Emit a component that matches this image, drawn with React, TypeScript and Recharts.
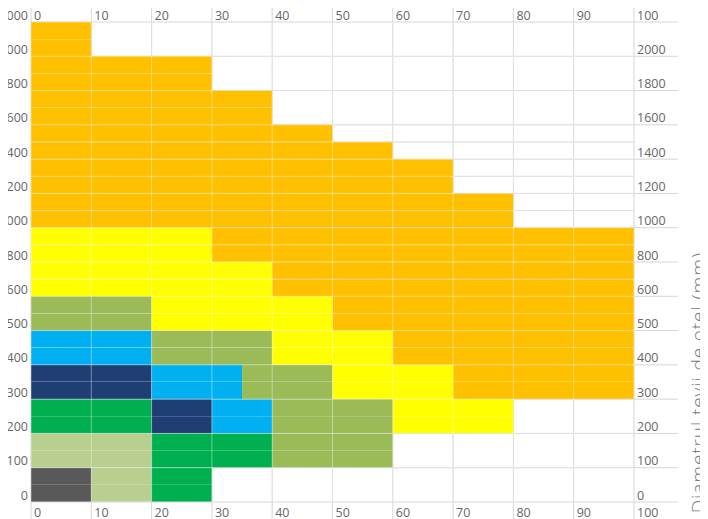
import { Bar, BarChart, CartesianGrid, ReferenceLine, XAxis, YAxis } from "recharts"

// x: 0..100 (top and bottom axis)
const xTicks = [0, 10, 20, 30, 40, 50, 60, 70, 80, 90, 100]

// pipe diameter bands (mm), bottom band first; label sits on the band's lower edge
const bandLabels = ["0", "100", "200", "300", "400", "500", "600", "800", "1000", "1200", "1400", "1600", "1800", "2000"]
const leftTopLabel = "3000"
const title = "Diametrul țevii de oțel (mm)"

// width of each colour per band, bottom band first
const gray = [10, 0, 0, 0, 0, 0, 0, 0, 0, 0, 0, 0, 0, 0]
const paleGreen = [10, 20, 0, 0, 0, 0, 0, 0, 0, 0, 0, 0, 0, 0]
const green = [10, 20, 20, 0, 0, 0, 0, 0, 0, 0, 0, 0, 0, 0]
const navy = [0, 0, 10, 20, 0, 0, 0, 0, 0, 0, 0, 0, 0, 0]
const sky = [0, 0, 10, 15, 20, 0, 0, 0, 0, 0, 0, 0, 0, 0]
const olive = [0, 20, 20, 15, 20, 20, 0, 0, 0, 0, 0, 0, 0, 0]
const yellow = [0, 0, 20, 20, 20, 30, 40, 30, 0, 0, 0, 0, 0, 0]
// orange differs between the lower and upper half of the 1400 band
const orangeLow = [0, 0, 0, 30, 40, 50, 60, 70, 80, 70, 60, 40, 30, 10]
const orangeHigh = [0, 0, 0, 30, 40, 50, 60, 70, 80, 70, 50, 40, 30, 10]

const series = [
  { key: "gray", color: "#595959" },
  { key: "paleGreen", color: "#b9cf8f" },
  { key: "green", color: "#00b050" },
  { key: "navy", color: "#1f3f74" },
  { key: "sky", color: "#00b0f0" },
  { key: "olive", color: "#9bbb59" },
  { key: "yellow", color: "#ffff00" },
  { key: "orange", color: "#ffc000" },
]

// half-band rows, top row first (category axis runs top to bottom)
const rows: Record<string, number | string>[] = []
for (let b = bandLabels.length - 1; b >= 0; b--) {
  for (const half of ["high", "low"]) {
    rows.push({
      row: `${bandLabels[b]}-${half}`,
      pos: b * 2 + (half === "high" ? 1.5 : 0.5),
      gray: gray[b],
      paleGreen: paleGreen[b],
      green: green[b],
      navy: navy[b],
      sky: sky[b],
      olive: olive[b],
      yellow: yellow[b],
      orange: half === "high" ? orangeHigh[b] : orangeLow[b],
    })
  }
}

// grid in half-band units; minor lines only in the 600..1600 region
const gridTicks = [0, 2, 4, 6, 8, 10, 12, 13, 14, 15, 16, 17, 18, 19, 20, 21, 22, 24, 26, 28]
const labelTicks = [0, 2, 4, 6, 8, 10, 12, 14, 16, 18, 20, 22, 24, 26, 28]

const tickFont = {
  fontFamily: "'Open Sans', sans-serif",
  fontSize: 12.5,
  fill: "#666666",
}

const TopTick = (p: any) => (
  <text x={p.x + 3} y={7} dominantBaseline="central" {...tickFont}>
    {p.payload.value}
  </text>
)
const BottomTick = (p: any) => (
  <text x={p.x + 3} y={p.y - 7} dominantBaseline="central" {...tickFont}>
    {p.payload.value}
  </text>
)
const RightTick = (p: any) => {
  const v = p.payload.value
  const label = v / 2 < bandLabels.length ? bandLabels[v / 2] : ""
  return (
    <text x={p.x - 41} y={p.y - 7} dominantBaseline="central" {...tickFont}>
      {label}
    </text>
  )
}
const LeftTick = (p: any) => {
  const v = p.payload.value
  const label = v / 2 < bandLabels.length ? bandLabels[v / 2] : leftTopLabel
  return (
    <text x={20} y={p.y - 7} textAnchor="end" dominantBaseline="central" {...tickFont}>
      {label}
    </text>
  )
}

const renderTitle = (p: any) => {
  const vb = p.viewBox
  const x = vb.x + vb.width - 3
  const y = 244
  return (
    <text
      x={x}
      y={y}
      transform={`rotate(-90 ${x} ${y})`}
      textAnchor="end"
      fontFamily="'Open Sans', sans-serif"
      fontWeight={300}
      fontSize={19}
      letterSpacing={0.9}
      fill="#7a7a7a"
    >
      {title}
    </text>
  )
}

export default function App() {
  return (
    <div style={{ width: 700, height: 511, overflow: "hidden" }}>
      <BarChart
        layout="vertical"
        width={700}
        height={511}
        data={rows}
        margin={{ top: 0, right: 0, bottom: 0, left: 0 }}
        barCategoryGap={0}
      >
        <XAxis
          xAxisId="top"
          type="number"
          orientation="top"
          domain={[0, 100]}
          allowDataOverflow
          ticks={xTicks}
          interval={0}
          height={14}
          tickSize={14}
          tickMargin={0}
          axisLine={false}
          tickLine={{ stroke: "#d6d6d6" }}
          tick={TopTick}
        />
        <XAxis
          xAxisId="bottom"
          type="number"
          orientation="bottom"
          domain={[0, 100]}
          allowDataOverflow
          ticks={xTicks}
          interval={0}
          height={17}
          tickSize={17}
          tickMargin={0}
          axisLine={false}
          tickLine={{ stroke: "#d6d6d6" }}
          tick={BottomTick}
        />
        <YAxis
          yAxisId="left"
          type="number"
          dataKey="pos"
          orientation="left"
          domain={[0, 28]}
          allowDataOverflow
          reversed
          ticks={labelTicks}
          interval={0}
          width={23}
          tickSize={0}
          tickMargin={3}
          axisLine={false}
          tickLine={false}
          tick={LeftTick}
        />
        <YAxis
          yAxisId="right"
          type="number"
          dataKey="pos"
          orientation="right"
          domain={[0, 28]}
          allowDataOverflow
          reversed
          ticks={labelTicks}
          interval={0}
          width={74}
          tickSize={44}
          tickMargin={0}
          axisLine={false}
          tickLine={{ stroke: "#d6d6d6" }}
          tick={RightTick}
          label={{ value: title, content: renderTitle }}
        />
        <YAxis yAxisId="rows" type="category" dataKey="row" orientation="right" width={0} hide />
        <YAxis
          yAxisId="grid"
          type="number"
          dataKey="pos"
          orientation="right"
          domain={[0, 28]}
          allowDataOverflow
          reversed
          ticks={gridTicks}
          interval={0}
          width={0}
          hide
        />
        <CartesianGrid xAxisId="bottom" yAxisId="grid" stroke="#cccccc" />
        {series.map((s) => (
          <Bar
            key={s.key}
            dataKey={s.key}
            stackId="a"
            xAxisId="bottom"
            yAxisId="rows"
            fill={s.color}
            isAnimationActive={false}
          />
        ))}
        {xTicks.map((t) => (
          <ReferenceLine
            key={`vx${t}`}
            x={t}
            xAxisId="bottom"
            yAxisId="grid"
            stroke="#ffffff"
            strokeOpacity={0.4}
          />
        ))}
        {gridTicks.map((t) => (
          <ReferenceLine
            key={`hy${t}`}
            y={t}
            xAxisId="bottom"
            yAxisId="grid"
            stroke="#ffffff"
            strokeOpacity={0.4}
          />
        ))}
      </BarChart>
    </div>
  )
}
